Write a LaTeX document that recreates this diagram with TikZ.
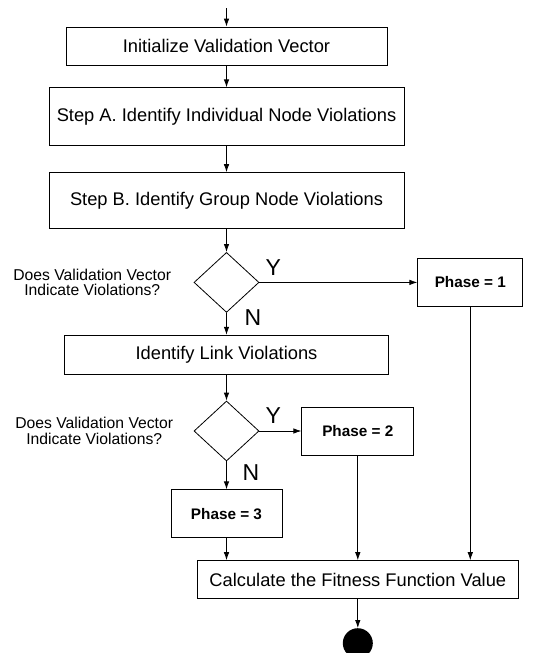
\documentclass[tikz,border=0pt]{standalone}
\usepackage{fontspec}
\setmainfont{Liberation Sans}
\usetikzlibrary{arrows.meta,positioning,shapes.geometric}

\begin{document}
\begin{tikzpicture}[x=1pt, y=1pt, >={Latex[length=8pt,width=5.5pt]},
  stepbox/.style={draw,line width=0.8pt,minimum height=38pt,inner sep=0pt,
                  font=\fontsize{18.3}{20}\selectfont,align=center},
  phasebox/.style={draw,line width=0.8pt,minimum width=110pt,minimum height=48pt,
                   font=\fontsize{15.3}{17}\selectfont\bfseries},
  decision/.style={draw,diamond,line width=0.8pt,minimum width=65pt,
                   minimum height=60pt,inner sep=0pt},
  question/.style={font=\fontsize{15.7}{15.7}\selectfont,align=center},
  answer/.style={inner sep=0pt,font=\fontsize{23}{24}\selectfont},
  flow/.style={->,line width=0.8pt}]
  \useasboundingbox (0,0) rectangle (533,-653);
  \coordinate (start) at (226.5,-8);
  \node[stepbox,minimum width=321pt] (init) at (226.5,-46) {Initialize Validation Vector};
  \node[stepbox,minimum width=355pt,minimum height=58pt,below=22pt of init] (stepA)
    {Step A. Identify Individual Node Violations};
  \node[stepbox,minimum width=355pt,minimum height=56pt,below=26pt of stepA] (stepB)
    {Step B. Identify Group Node Violations};
  \node[decision,below=23pt of stepB] (dec1) {};
  \node[phasebox,minimum width=105pt,right=158pt of dec1] (ph1) {Phase = 1};
  \node[question,left=19pt of dec1] (q1) {Does Validation Vector\\Indicate Violations?};
  \node[answer,above right=7pt and 6pt of dec1.east] (y1) {Y};
  \node[answer,anchor=west] (n1) at ([xshift=18pt,yshift=-5pt]dec1.south) {N};
  \node[stepbox,minimum width=324pt,minimum height=39pt,below=22pt of dec1] (link)
    {Identify Link Violations};
  \node[decision,below=26pt of link] (dec2) {};
  \node[phasebox,minimum width=112pt,right=42pt of dec2] (ph2) {Phase = 2};
  \node[question,left=17pt of dec2] (q2) {Does Validation Vector\\Indicate Violations?};
  \node[answer,above right=7pt and 6pt of dec2.east] (y2) {Y};
  \node[answer,anchor=west] (n2) at ([xshift=16pt,yshift=-11pt]dec2.south) {N};
  \node[phasebox,minimum width=111pt,below=28pt of dec2] (ph3) {Phase = 3};
  \node[stepbox,minimum width=321pt,anchor=north] (calc) at ([yshift=-22pt]ph3.south -| ph2.south)
    {Calculate the Fitness Function Value};
  \node[circle,fill=black,minimum size=30pt,inner sep=0pt,below=29pt of calc] (stop) {};

  \draw[flow] (start) -- (init);
  \draw[flow] (init) -- (stepA);
  \draw[flow] (stepA) -- (stepB);
  \draw[flow] (stepB) -- (dec1);
  \draw[flow] (dec1) -- (ph1);
  \draw[flow] (dec1) -- (link);
  \draw[flow] (link) -- (dec2);
  \draw[flow] (dec2) -- (ph2);
  \draw[flow] (dec2) -- (ph3);
  \draw[flow] (ph3) -- (ph3.south |- calc.north);
  \draw[flow] (ph2) -- (ph2.south |- calc.north);
  \draw[flow] (ph1) -- (ph1.south |- calc.north);
  \draw[flow] (calc) -- (stop);
\end{tikzpicture}
\end{document}
